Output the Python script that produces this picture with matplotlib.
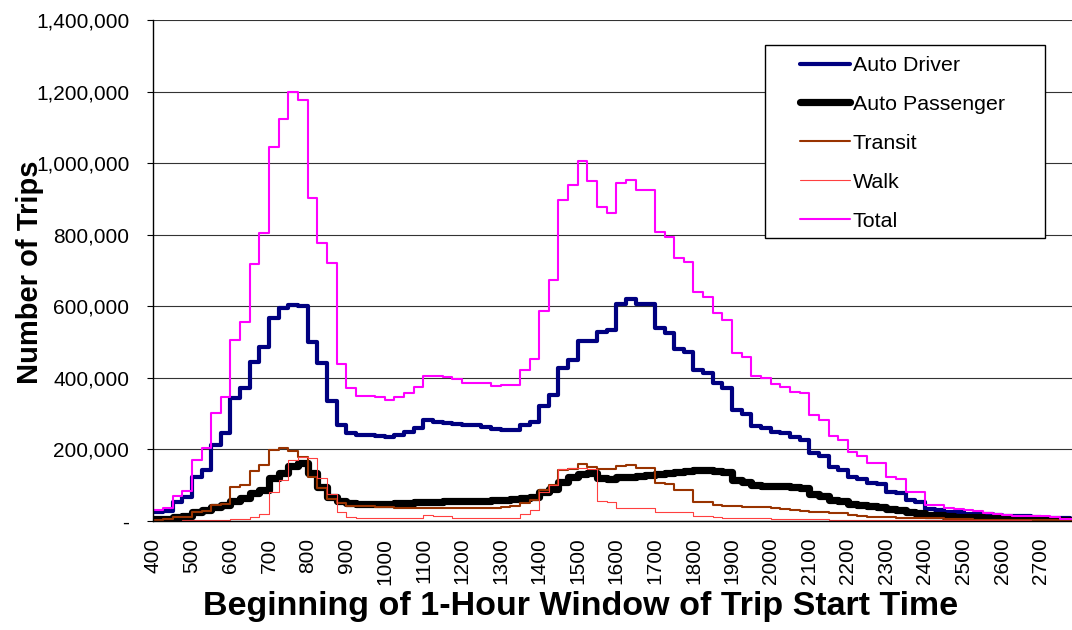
import numpy as np
import matplotlib
matplotlib.use("Agg")
import matplotlib.pyplot as plt
from matplotlib.patches import Rectangle
from matplotlib.ticker import FuncFormatter, MultipleLocator

plt.rcParams.update({
    "font.family": ["Liberation Sans", "DejaVu Sans"],
    "font.size": 15,
})

# ---- data: trips starting in the 1-hour window, 15-minute steps from 4:00 (thousands)
auto_driver = [25, 28, 54, 68, 124, 142, 212, 245, 343, 371,
               445, 487, 566, 594, 603, 601, 501, 441, 335, 268,
               247, 240, 240, 237, 234, 240, 250, 259, 282, 277,
               273, 270, 268, 267, 264, 256, 254, 254, 268, 277,
               322, 352, 427, 450, 504, 504, 529, 534, 605, 620,
               606, 606, 538, 524, 482, 473, 422, 413, 385, 373,
               309, 299, 266, 260, 248, 245, 235, 227, 190, 183,
               150, 142, 122, 116, 105, 103, 80, 77, 59, 54,
               34, 31, 26, 25, 20, 20, 19, 18, 14, 13,
               13, 12, 8, 8, 7, 6]
auto_passenger = [5, 6, 10, 14, 26, 31, 40, 45, 57, 63,
                  77, 87, 119, 133, 155, 163, 133, 96, 68, 57,
                  50, 48, 48, 48, 48, 50, 50, 52, 53, 54,
                  55, 55, 56, 56, 57, 58, 60, 62, 63, 68,
                  80, 90, 110, 122, 132, 133, 120, 117, 122, 124,
                  127, 129, 130, 133, 137, 139, 142, 142, 140, 136,
                  115, 108, 100, 99, 98, 97, 96, 92, 75, 70,
                  58, 55, 48, 45, 41, 39, 33, 31, 25, 23,
                  18, 16, 13, 12, 11, 10, 8, 7, 6, 6,
                  5, 5, 4, 4, 3, 3]
transit = [3, 5, 10, 12, 25, 28, 44, 48, 94, 101,
           140, 156, 198, 205, 196, 180, 123, 92, 62, 50,
           43, 42, 41, 40, 38, 37, 37, 37, 37, 37,
           37, 37, 37, 37, 37, 37, 40, 42, 50, 58,
           88, 100, 142, 145, 158, 150, 146, 146, 155, 156,
           148, 147, 105, 104, 87, 86, 54, 52, 46, 43,
           41, 40, 39, 38, 36, 34, 32, 28, 26, 25,
           22, 21, 18, 14, 12, 11, 10, 9, 8, 8,
           7, 7, 6, 6, 5, 4, 3, 3, 2, 2,
           2, 2, 2, 2, 2, 2]
walk = [1, 1, 1, 2, 2, 2, 3, 3, 5, 6,
        12, 20, 82, 115, 170, 180, 175, 120, 75, 25,
        12, 8, 7, 7, 7, 7, 7, 7, 16, 15,
        13, 9, 8, 8, 8, 8, 8, 9, 20, 31,
        80, 100, 145, 148, 148, 145, 57, 54, 35, 35,
        35, 35, 26, 26, 26, 26, 15, 14, 10, 9,
        8, 8, 7, 7, 6, 6, 6, 5, 5, 5,
        4, 4, 4, 3, 3, 3, 3, 3, 3, 3,
        3, 2, 2, 2, 2, 2, 2, 2, 2, 2,
        2, 1, 1, 1, 1, 1]
total = [30, 35, 70, 85, 170, 204, 302, 347, 506, 556,
         718, 804, 1045, 1122, 1198, 1176, 902, 777, 720, 440,
         371, 349, 349, 346, 338, 346, 357, 374, 405, 405,
         403, 396, 387, 385, 385, 377, 380, 380, 422, 452,
         588, 673, 897, 939, 1005, 950, 878, 860, 945, 953,
         925, 925, 808, 794, 734, 724, 641, 627, 582, 563,
         470, 457, 405, 399, 383, 375, 361, 357, 296, 282,
         238, 226, 192, 183, 161, 161, 123, 116, 82, 82,
         45, 45, 35, 33, 30, 29, 21, 20, 16, 15,
         14, 13, 14, 12, 6, 5]

hour_labels = [str(h * 100) for h in range(4, 28)]

series = [
    ("Auto Driver", auto_driver, "#000080", 3.0),
    ("Auto Passenger", auto_passenger, "#000000", 5.2),
    ("Transit", transit, "#993300", 1.5),
    ("Walk", walk, "#FF4040", 0.8),
    ("Total", total, "#FF00FF", 1.5),
]

W, H = 1072, 630

# ---- figure -------------------------------------------------------------
fig = plt.figure(figsize=(W / 100, H / 100), dpi=100)
ax = fig.add_axes([153.3 / W, 109 / H, (W - 153.3) / W, 501 / H])

edges = 4 + np.arange(len(total) + 1) * 0.25
for name, vals, color, lw in series:
    st = ax.stairs(np.array(vals) * 1000, edges, baseline=None, color=color,
                   linewidth=lw, label=name)
    st.set_joinstyle("round")
    st.set_capstyle("round")

ax.set_xlim(4, 27.81)
ax.set_ylim(0, 1_400_000)

ax.yaxis.set_major_locator(MultipleLocator(200_000))
ax.yaxis.set_major_formatter(FuncFormatter(lambda v, p: "-" if v == 0 else f"{v:,.0f}"))
ax.grid(axis="y", color="#333333", linewidth=0.8)
ax.set_axisbelow(True)

ax.set_xticks(range(4, 28))
ax.set_xticklabels(hour_labels, rotation=90)
ax.set_xticks(range(4, 28, 4), minor=True)
ax.tick_params(axis="x", which="major", length=0, pad=12, labelsize=15)
ax.tick_params(axis="x", which="minor", length=4.3, width=0.8, direction="out")
ax.tick_params(axis="y", length=4.3, width=0.8, pad=13, labelsize=15)

for s in ("top", "right"):
    ax.spines[s].set_visible(False)
for s in ("left", "bottom"):
    ax.spines[s].set_linewidth(1.0)
    ax.spines[s].set_color("#000000")

# legend box
ax.add_patch(Rectangle((765 / W, 1 - 238 / H), 280 / W, 193 / H,
                       transform=fig.transFigure, facecolor="white",
                       edgecolor="black", linewidth=1.0, zorder=5, clip_on=False))
leg = ax.legend(loc="upper left", bbox_to_anchor=(800 / W, 1 - 56 / H),
                bbox_transform=fig.transFigure, frameon=False,
                handlelength=2.35, handletextpad=0.12, labelspacing=0.93,
                borderpad=0, borderaxespad=0, fontsize=15.4)
leg.set_zorder(6)
for h in leg.get_lines():
    h.set_solid_capstyle("round")

fig.text(581 / W, 1 - 606 / H, "Beginning of 1-Hour Window of Trip Start Time",
         ha="center", va="center", fontsize=24.5, weight="bold")
fig.text(30 / W, 1 - 272 / H, "Number of Trips", rotation=90,
         ha="center", va="center", fontsize=21, weight="bold")

fig.savefig("out.png", dpi=100)
